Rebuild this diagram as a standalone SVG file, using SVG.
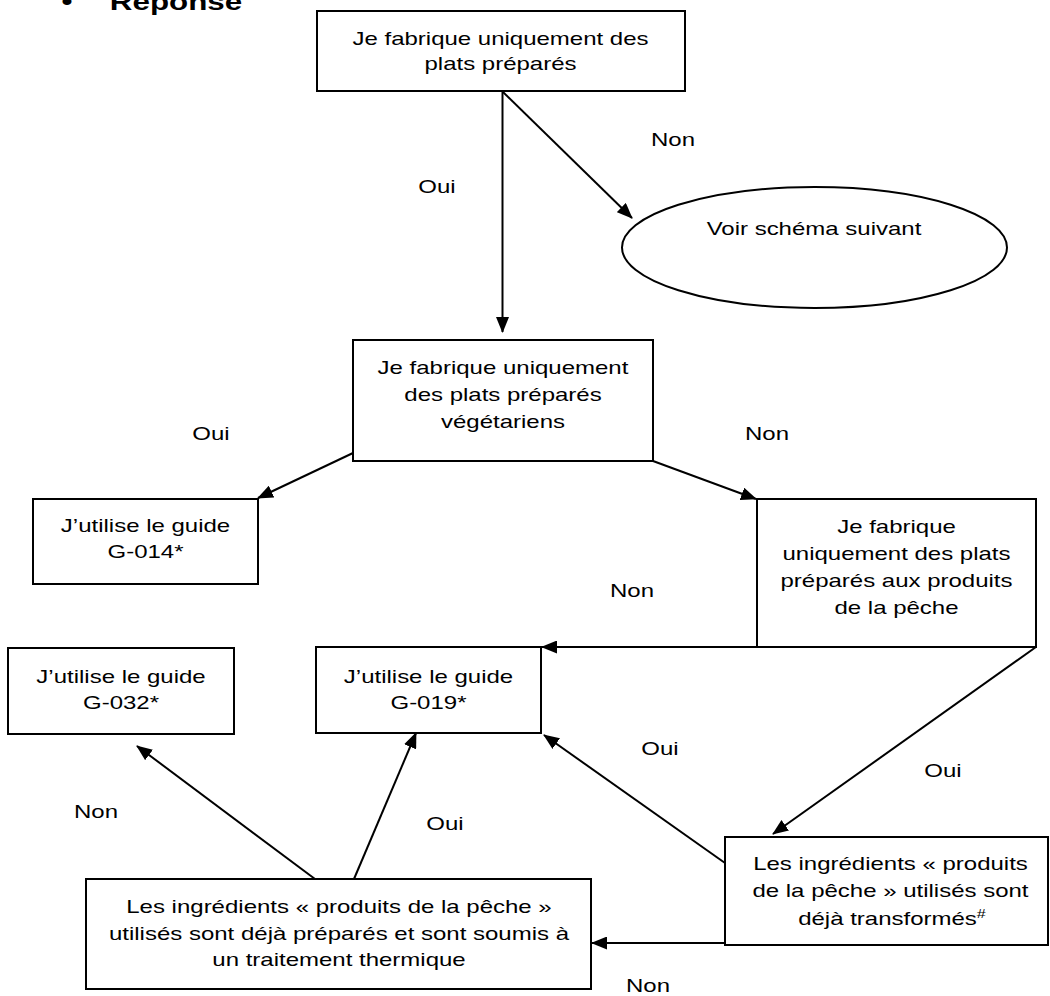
<svg xmlns="http://www.w3.org/2000/svg" width="1050" height="996" viewBox="0 0 1050 996">
<style>
.t { font-family: "Liberation Sans", Arial, sans-serif; font-size: 18px; fill: #000; text-anchor: middle; transform-box: fill-box; transform-origin: center; transform: scaleX(1.3333); }
.h { font-weight: bold; font-size: 23.5px; }
.b { fill: #fff; stroke: #000; stroke-width: 2; }
.c { stroke: #000; stroke-width: 2; fill: none; marker-end: url(#ah); }
</style>
<defs>
<marker id="ah" markerUnits="userSpaceOnUse" markerWidth="16" markerHeight="13" refX="15" refY="6.5" orient="auto">
<path d="M0,0 L16,6.5 L0,13 z" fill="#000"/>
</marker>
</defs>
<rect width="1050" height="996" fill="#fff"/>
<g id="header">
<text class="t h" x="67" y="10">•</text>
<text class="t h" x="176" y="10">Réponse</text>
</g>
<g id="connectors">
<line class="c" x1="502.5" y1="92" x2="502.5" y2="332"/>
<line class="c" x1="503" y1="92" x2="632" y2="218"/>
<line class="c" x1="353" y1="453" x2="258" y2="498"/>
<line class="c" x1="653" y1="461" x2="756" y2="499"/>
<line class="c" x1="757" y1="647" x2="542" y2="647"/>
<line class="c" x1="1036" y1="647" x2="773" y2="834"/>
<line class="c" x1="725" y1="863" x2="544" y2="735"/>
<line class="c" x1="724" y1="943" x2="592" y2="943"/>
<line class="c" x1="315" y1="879" x2="137" y2="746"/>
<line class="c" x1="354" y1="879" x2="416" y2="733"/>
</g>
<g id="labels">
<text class="t" x="673" y="146">Non</text>
<text class="t" x="437" y="193">Oui</text>
<text class="t" x="211" y="440">Oui</text>
<text class="t" x="767" y="440">Non</text>
<text class="t" x="632" y="597">Non</text>
<text class="t" x="660" y="755">Oui</text>
<text class="t" x="943" y="777">Oui</text>
<text class="t" x="96" y="818">Non</text>
<text class="t" x="445" y="830">Oui</text>
<text class="t" x="648" y="992">Non</text>
</g>
<g id="n1">
<rect class="b" x="317" y="11" width="368" height="80"/>
<text class="t" x="500.5" y="45">Je fabrique uniquement des</text>
<text class="t" x="500.5" y="70">plats préparés</text>
</g>
<g id="n2">
<ellipse class="b" cx="814.5" cy="247.5" rx="192.5" ry="60.5"/>
<text class="t" x="814" y="235">Voir schéma suivant</text>
</g>
<g id="n3">
<rect class="b" x="353" y="340" width="300" height="121"/>
<text class="t" x="503" y="374">Je fabrique uniquement</text>
<text class="t" x="503" y="401">des plats préparés</text>
<text class="t" x="503" y="428">végétariens</text>
</g>
<g id="n4">
<rect class="b" x="33" y="499" width="225" height="85"/>
<text class="t" x="145.5" y="532">J’utilise le guide</text>
<text class="t" x="145.5" y="558">G-014*</text>
</g>
<g id="n5">
<rect class="b" x="757" y="499" width="279" height="148"/>
<text class="t" x="896.5" y="533">Je fabrique</text>
<text class="t" x="896.5" y="560">uniquement des plats</text>
<text class="t" x="896.5" y="587">préparés aux produits</text>
<text class="t" x="896.5" y="614">de la pêche</text>
</g>
<g id="n6">
<rect class="b" x="8" y="648" width="226" height="86"/>
<text class="t" x="121" y="683">J’utilise le guide</text>
<text class="t" x="121" y="709">G-032*</text>
</g>
<g id="n7">
<rect class="b" x="316" y="647" width="225" height="86"/>
<text class="t" x="428.5" y="683">J’utilise le guide</text>
<text class="t" x="428.5" y="709">G-019*</text>
</g>
<g id="n8">
<rect class="b" x="725" y="837" width="323" height="108"/>
<text class="t" x="890.5" y="870">Les ingrédients « produits</text>
<text class="t" x="890.5" y="897">de la pêche » utilisés sont</text>
<text class="t" x="892" y="925">déjà transformés<tspan font-size="12" baseline-shift="super">#</tspan></text>
</g>
<g id="n9">
<rect class="b" x="86" y="879" width="505" height="110"/>
<text class="t" x="339" y="913">Les ingrédients « produits de la pêche »</text>
<text class="t" x="339" y="940">utilisés sont déjà préparés et sont soumis à</text>
<text class="t" x="339" y="966">un traitement thermique</text>
</g>
</svg>
